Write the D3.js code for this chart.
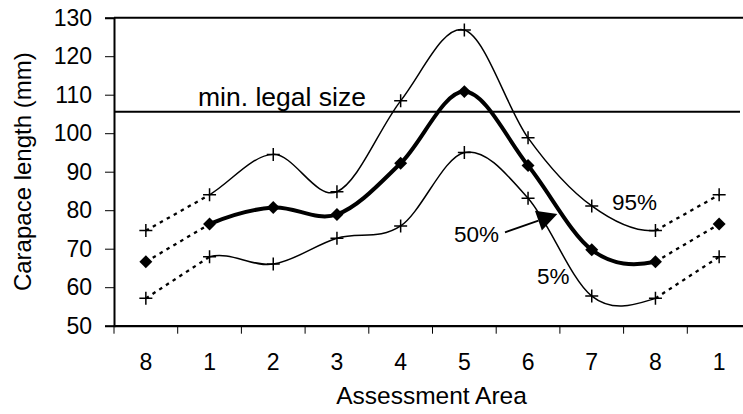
<!DOCTYPE html>
<html>
<head>
<meta charset="utf-8">
<script src="https://cdn.jsdelivr.net/npm/d3@7"></script>
<style>
  html, body { margin: 0; padding: 0; background: #fff; }
  svg { display: block; font-family: Arial, "Liberation Sans", sans-serif; }
</style>
</head>
<body>
<svg id="chart" width="743" height="414"></svg>
<script>
// Assessment areas along the coast (the sequence wraps round: 8 .. 1)
const categories = ["8", "1", "2", "3", "4", "5", "6", "7", "8", "1"];

// Carapace length percentiles (mm) per area
const pct95 = [74.7, 84.0, 94.5, 84.8, 108.4, 126.8, 98.8, 81.1, 74.7, 84.0];
const pct50 = [66.6, 76.4, 80.7, 78.9, 92.2, 110.8, 91.6, 69.7, 66.6, 76.4];
const pct5  = [57.1, 67.9, 66.0, 72.7, 75.9, 95.0, 83.1, 57.7, 57.1, 67.9];

const yTicks = [50, 60, 70, 80, 90, 100, 110, 120, 130];
const legalSize = 105.6;

const svg = d3.select("#chart");
const plot = { left: 114, right: 751, top: 17.7, bottom: 325.7 };

const idx = categories.map((_, i) => i);
const x = d3.scaleBand().domain(idx).range([plot.left, plot.right]).padding(0);
const cx = i => x(i) + x.bandwidth() / 2;
const y = d3.scaleLinear().domain([50, 130]).range([plot.bottom, plot.top]);

// clip so the smoothed curves only show between the 2nd and 9th area
svg.append("defs").append("clipPath").attr("id", "inner")
  .append("rect")
  .attr("x", cx(1)).attr("y", 0)
  .attr("width", cx(8) - cx(1)).attr("height", 414);

// frame: top border, left and bottom axis lines
svg.append("line")
  .attr("x1", plot.left).attr("x2", plot.right)
  .attr("y1", y(130)).attr("y2", y(130))
  .attr("stroke", "#000").attr("stroke-width", 2);

// y axis
const yAxis = svg.append("g")
  .attr("transform", `translate(${plot.left},0)`)
  .call(d3.axisLeft(y).tickValues(yTicks).tickSize(9).tickPadding(13));
yAxis.select(".domain").attr("stroke-width", 2);
yAxis.selectAll(".tick line").attr("stroke-width", 1);
yAxis.selectAll(".tick text")
  .attr("font-size", 23).attr("font-family", "Arial, 'Liberation Sans', sans-serif")
  .attr("fill", "#000");

// x axis: labels centred in each category, ticks on the category boundaries
const xAxis = svg.append("g")
  .attr("transform", `translate(0,${plot.bottom})`)
  .call(d3.axisBottom(x).tickSize(0).tickPadding(28).tickFormat(i => categories[i]));
xAxis.select(".domain").attr("stroke-width", 2.2);
xAxis.selectAll(".tick text")
  .attr("font-size", 23).attr("font-family", "Arial, 'Liberation Sans', sans-serif")
  .attr("fill", "#000");
svg.append("g").selectAll("line")
  .data(idx.concat([idx.length]))
  .join("line")
  .attr("x1", i => i < idx.length ? x(i) : plot.right)
  .attr("x2", i => i < idx.length ? x(i) : plot.right)
  .attr("y1", plot.bottom).attr("y2", plot.bottom + 8)
  .attr("stroke", "#000").attr("stroke-width", 1);

// axis titles
svg.append("text")
  .attr("transform", `translate(31,${(plot.top + plot.bottom) / 2}) rotate(-90)`)
  .attr("text-anchor", "middle").attr("font-size", 24)
  .text("Carapace length (mm)");
svg.append("text")
  .attr("x", (plot.left + plot.right) / 2 - 1).attr("y", 404)
  .attr("text-anchor", "middle").attr("font-size", 24.5)
  .text("Assessment Area");

// minimum legal size line
svg.append("line")
  .attr("x1", plot.left).attr("x2", 740)
  .attr("y1", y(legalSize)).attr("y2", y(legalSize))
  .attr("stroke", "#000").attr("stroke-width", 2);
svg.append("text")
  .attr("x", 198).attr("y", y(legalSize) - 5.5)
  .attr("font-size", 26.5)
  .text("min. legal size");

const smooth = d3.line()
  .x((d, i) => cx(i)).y(d => y(d))
  .curve(d3.curveCardinal.tension(0));
const straight = d3.line().x(d => cx(d.i)).y(d => y(d.v));

const series = [
  { values: pct95, width: 1.5, marker: "plus" },
  { values: pct5, width: 1.5, marker: "plus" },
  { values: pct50, width: 4, marker: "diamond" }
];

series.forEach(s => {
  // smoothed curve through the interior areas
  svg.append("path")
    .attr("d", smooth(s.values))
    .attr("clip-path", "url(#inner)")
    .attr("fill", "none").attr("stroke", "#000")
    .attr("stroke-width", s.width).attr("stroke-linejoin", "round");
  // dotted links to the repeated end areas
  const n = s.values.length;
  [[0, 1], [n - 2, n - 1]].forEach(([a, b]) => {
    svg.append("path")
      .attr("d", straight([{ i: a, v: s.values[a] }, { i: b, v: s.values[b] }]))
      .attr("fill", "none").attr("stroke", "#000")
      .attr("stroke-width", 2.3).attr("stroke-dasharray", "3.5,4.5");
  });
  const g = svg.append("g");
  if (s.marker === "plus") {
    g.selectAll("path").data(s.values).join("path")
      .attr("transform", (d, i) => `translate(${cx(i)},${y(d)})`)
      .attr("d", "M-6.5,0H6.5M0,-6.5V6.5")
      .attr("stroke", "#000").attr("stroke-width", 1.5).attr("fill", "none");
  } else {
    g.selectAll("path").data(s.values).join("path")
      .attr("transform", (d, i) => `translate(${cx(i)},${y(d)}) rotate(45)`)
      .attr("d", d3.symbol(d3.symbolSquare, 84)())
      .attr("fill", "#000");
  }
});

// percentile labels
const labels = [
  { text: "95%", x: 612, y: 210 },
  { text: "50%", x: 454, y: 241.5 },
  { text: "5%", x: 537, y: 283.5 }
];
svg.append("g").selectAll("text").data(labels).join("text")
  .attr("x", d => d.x).attr("y", d => d.y)
  .attr("font-size", 22.5)
  .text(d => d.text);

// arrow from the 50% label to the median curve
const arrow = { x1: 505, y1: 232.3, x2: 557.3, y2: 214 };
const ang = Math.atan2(arrow.y2 - arrow.y1, arrow.x2 - arrow.x1);
const headLen = 20, headHalf = 10.5;
const bx = arrow.x2 - headLen * Math.cos(ang), by = arrow.y2 - headLen * Math.sin(ang);
svg.append("line")
  .attr("x1", arrow.x1).attr("y1", arrow.y1).attr("x2", bx).attr("y2", by)
  .attr("stroke", "#000").attr("stroke-width", 1.8);
svg.append("path")
  .attr("d", d3.line()([
    [arrow.x2, arrow.y2],
    [bx + headHalf * Math.sin(ang), by - headHalf * Math.cos(ang)],
    [bx - headHalf * Math.sin(ang), by + headHalf * Math.cos(ang)]
  ]) + "Z")
  .attr("fill", "#000");
</script>
</body>
</html>
